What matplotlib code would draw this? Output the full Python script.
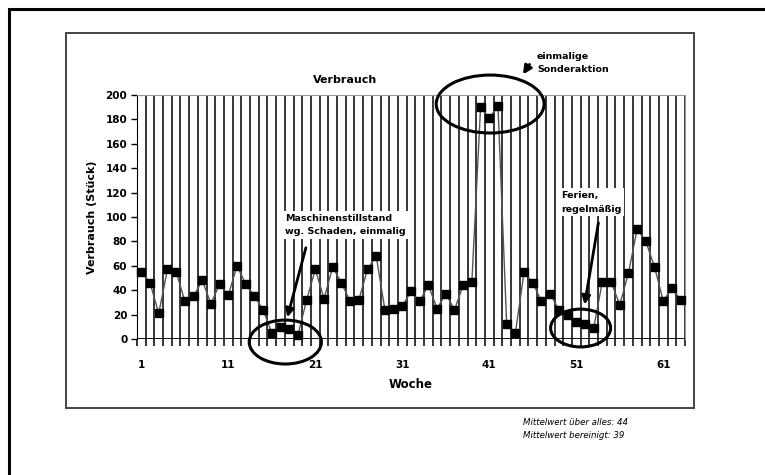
import matplotlib.pyplot as plt
from matplotlib.patches import Ellipse, Rectangle
import numpy as np

plt.rcParams['font.family'] = ['DejaVu Sans']

# weekly consumption (Stück)
weeks = np.arange(1, 64)
verbrauch = [55, 46, 21, 57, 55, 31, 35, 48, 29, 45, 36, 60, 45, 35, 24, 5, 10, 8, 3,
             32, 57, 33, 59, 46, 31, 32, 57, 68, 24, 25, 27, 39, 31, 44, 25, 37, 24, 44, 47,
             190, 181, 191,
             12, 5, 55, 46, 31, 37, 24, 20, 14, 12, 9, 47, 47, 28, 54, 90, 80, 59, 31, 42, 32]
xtick_labels = [1, 11, 21, 31, 41, 51, 61]
ytick_labels = list(range(0, 201, 20))

W, H = 765, 475
fig = plt.figure(figsize=(W / 100, H / 100), dpi=100)


def fx(px):
    return px / W


def fy(py):
    return 1 - py / H


# outer frame and chart box
fig.patches.append(Rectangle((fx(9), fy(480)), fx(780) - fx(9), fy(9) - fy(480),
                             transform=fig.transFigure, fill=False, lw=2.2, ec='black'))
fig.patches.append(Rectangle((fx(66), fy(408)), fx(694) - fx(66), fy(33) - fy(408),
                             transform=fig.transFigure, fill=False, lw=1.4, ec='#444444'))

ax = fig.add_axes([fx(137), fy(339), fx(685) - fx(137), fy(95) - fy(339)])
ax.set_xlim(0.5, 63.5)
ax.set_ylim(0, 200)

# vertical grid between categories
ax.vlines(np.arange(0.5, 64), 0, 200, color='black', lw=1.1, zorder=1)
ax.axhline(0, color='black', lw=1.3, zorder=3)

ax.plot(weeks, verbrauch, color='#555555', lw=1, marker='s', ms=5.5,
        mfc='black', mec='black', zorder=4, clip_on=False)

for s in ['top', 'right']:
    ax.spines[s].set_color('#999999')
ax.spines['bottom'].set_visible(False)
ax.spines['left'].set_color('black')

ax.set_yticks(ytick_labels)
ax.set_yticklabels([str(v) for v in ytick_labels], fontweight='bold', fontsize=7.5)
ax.tick_params(axis='y', length=4, width=1, pad=3)
ax.set_xticks(xtick_labels)
ax.set_xticklabels([str(v) for v in xtick_labels], fontweight='bold', fontsize=7.5)
ax.set_xticks(np.arange(0.5, 64), minor=True)
ax.tick_params(axis='x', which='major', length=0, pad=15)
ax.tick_params(axis='x', which='minor', length=5, width=1.1)

fig.text(fx(345), fy(80), 'Verbrauch', fontsize=8, fontweight='bold', ha='center', va='center')
ax.set_ylabel('Verbrauch (Stück)', fontsize=8, fontweight='bold', labelpad=6)
ax.set_xlabel('Woche', fontsize=8.5, fontweight='bold', labelpad=6)

# annotations
for (cx, cy, w, h) in [(17.55, -2.5, 8.3, 36), (41.1, 192.6, 12.4, 47.5), (51.5, 9, 6.9, 31)]:
    ax.add_patch(Ellipse((cx, cy), w, h, fill=False, ec='black', lw=2.2,
                         clip_on=False, zorder=6))

arrows = [((20.0, 77), (17.7, 15.6)), ((45.8, 227), (44.7, 215)), ((53.6, 97.5), (51.9, 26))]
for tail, head in arrows:
    ax.annotate('', xy=head, xytext=tail, annotation_clip=False,
                arrowprops=dict(arrowstyle='-|>,head_length=0.5,head_width=0.25',
                                color='black', lw=2), zorder=7)

box = dict(facecolor='white', edgecolor='none', pad=2)
fig.text(fx(285), fy(214), 'Maschinenstillstand\nwg. Schaden, einmalig', fontsize=6.8,
         fontweight='bold', va='top', ha='left', linespacing=1.55, bbox=box, zorder=5)
fig.text(fx(561), fy(191), 'Ferien,\nregelmäßig', fontsize=6.8,
         fontweight='bold', va='top', ha='left', linespacing=1.65, bbox=box, zorder=5)
fig.text(fx(537), fy(52), 'einmalige\nSonderaktion', fontsize=6.8,
         fontweight='bold', va='top', ha='left', linespacing=1.6)

fig.text(fx(523), fy(418), 'Mittelwert über alles: 44\nMittelwert bereinigt: 39',
         fontsize=6.2, style='italic', va='top', ha='left', linespacing=1.5)

fig.savefig('out.png', dpi=100)
